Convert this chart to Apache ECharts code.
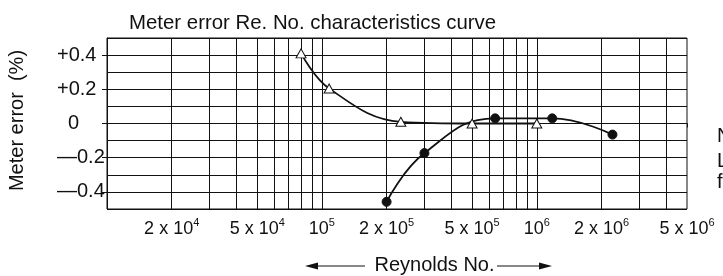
<!DOCTYPE html>
<html>
<head>
<meta charset="utf-8">
<script src="https://cdn.jsdelivr.net/npm/echarts@6/dist/echarts.min.js"></script>
<style>
html, body { margin: 0; padding: 0; background: #fff; }
#chart { width: 723px; height: 276px; }
</style>
</head>
<body>
<div id="chart"></div>
<script>
// Reynolds No. / meter error
const triRe  = [8e4, 1.08e5, 2.33e5, 5e5, 1e6]
const triErr = [0.41, 0.205, 0.01, 0, 0]
const dotRe  = [2e5, 3e5, 6.4e5, 1.18e6, 2.25e6]
const dotErr = [-0.458, -0.173, 0.03, 0.03, -0.065]

// axis ticks / grid
const xLabelValues = [2e4, 5e4, 1e5, 2e5, 5e5, 1e6, 2e6, 5e6]
const xGridValues = [2e4, 3e4, 4e4, 5e4, 6e4, 7e4, 8e4, 9e4, 1e5,
  2e5, 3e5, 4e5, 5e5, 6e5, 7e5, 8e5, 9e5, 1e6, 2e6, 3e6, 4e6]
const yLabelValues = [-0.4, -0.2, 0, 0.2, 0.4]
const rightNotes = ["Note:", "Liquid", "flow"]

const font = "Liberation Sans"
const ink = "#111"

function xLabel(v) {
  let e = Math.floor(Math.log10(v) + 1e-9)
  let m = Math.round(v / Math.pow(10, e))
  if (m === 1) return "{b|10}{s|" + e + "}"
  return "{b|" + m + " x 10}{s|" + e + "}"
}
function yLabel(v) {
  if (Math.abs(v) < 1e-9) return "{z|0}"
  return (v > 0 ? "+" : "\u2014") + Math.abs(v).toFixed(1)
}

let myChart = echarts.init(document.getElementById("chart"))
myChart.setOption({
  animation: false,
  title: {
    text: "Meter error Re. No. characteristics curve",
    left: 124,
    top: 8,
    textStyle: { fontFamily: font, fontSize: 20.4, fontWeight: "normal", color: ink }
  },
  grid: {
    left: 107,
    right: 36,
    top: 38,
    bottom: 67,
    outerBoundsMode: "none",
    containLabel: false,
    show: true,
    borderColor: ink,
    borderWidth: 1
  },
  xAxis: [
    {
      type: "log",
      logBase: 10,
      min: 1e4,
      max: 5e6,
      name: "Reynolds No.",
      nameLocation: "middle",
      nameGap: 46,
      nameTextStyle: { fontFamily: font, fontSize: 20, color: ink, padding: [0, 0, 0, 75] },
      axisLine: { show: true, lineStyle: { color: ink } },
      axisTick: { show: true, length: 4, customValues: xLabelValues, lineStyle: { color: ink } },
      axisLabel: {
        customValues: xLabelValues,
        formatter: xLabel,
        margin: 8,
        color: ink,
        rich: {
          b: { fontFamily: font, fontSize: 18, lineHeight: 24, color: ink },
          s: { fontFamily: font, fontSize: 11, lineHeight: 14, verticalAlign: "top", color: ink }
        }
      },
      splitLine: { show: false }
    },
    {
      type: "log",
      logBase: 10,
      min: 1e4,
      max: 5e6,
      axisLine: { show: false },
      axisTick: { show: false, customValues: xGridValues },
      axisLabel: { show: false },
      splitLine: { show: true, lineStyle: { color: ink, width: 1 } }
    }
  ],
  yAxis: [
    {
      type: "value",
      min: -0.5,
      max: 0.5,
      name: "Meter error  (%)",
      nameLocation: "middle",
      nameGap: 80,
      nameTextStyle: { fontFamily: font, fontSize: 20, color: ink, padding: [0, 0, 0, 6] },
      axisLine: { show: true, lineStyle: { color: ink } },
      axisTick: { show: true, length: 5, customValues: yLabelValues, lineStyle: { color: ink } },
      axisLabel: {
        customValues: yLabelValues,
        formatter: yLabel,
        align: "left",
        margin: 50,
        fontFamily: font,
        fontSize: 20,
        color: ink,
        rich: {
          z: { fontFamily: font, fontSize: 20, color: ink, padding: [0, 0, 0, 11] }
        }
      },
      splitLine: { show: false }
    },
    {
      type: "value",
      min: -0.5,
      max: 0.5,
      interval: 0.1,
      axisLine: { show: false },
      axisTick: { show: false },
      axisLabel: { show: false },
      splitLine: { show: true, lineStyle: { color: ink, width: 1 } }
    }
  ],
  series: [
    {
      name: "triangles",
      type: "line",
      smooth: 0.4,
      data: triRe.map((r, i) => [r, triErr[i]]),
      symbol: "triangle",
      symbolSize: [10, 9],
      itemStyle: { color: "#fff", borderColor: ink, borderWidth: 1 },
      lineStyle: { color: ink, width: 1.8 },
      z: 5
    },
    {
      name: "dots",
      type: "line",
      smooth: 0.45,
      data: dotRe.map((r, i) => [r, dotErr[i]]),
      symbol: "circle",
      symbolSize: 9,
      itemStyle: { color: ink, borderColor: ink },
      lineStyle: { color: ink, width: 1.8 },
      z: 4
    }
  ],
  graphic: [
    { type: "line", shape: { x1: 310, y1: 266, x2: 365, y2: 266 }, style: { stroke: ink, lineWidth: 1 } },
    { type: "polygon", shape: { points: [[305, 266], [318, 262.5], [318, 269.5]] }, style: { fill: ink } },
    { type: "line", shape: { x1: 497, y1: 266, x2: 546, y2: 266 }, style: { stroke: ink, lineWidth: 1 } },
    { type: "polygon", shape: { points: [[552, 266], [539, 262.5], [539, 269.5]] }, style: { fill: ink } }
  ].concat(rightNotes.map((t, i) => ({
    type: "text",
    left: 717,
    top: [126, 151, 172][i],
    style: { text: t, fontFamily: font, fontSize: 20, fill: ink }
  })))
})
</script>
</body>
</html>
